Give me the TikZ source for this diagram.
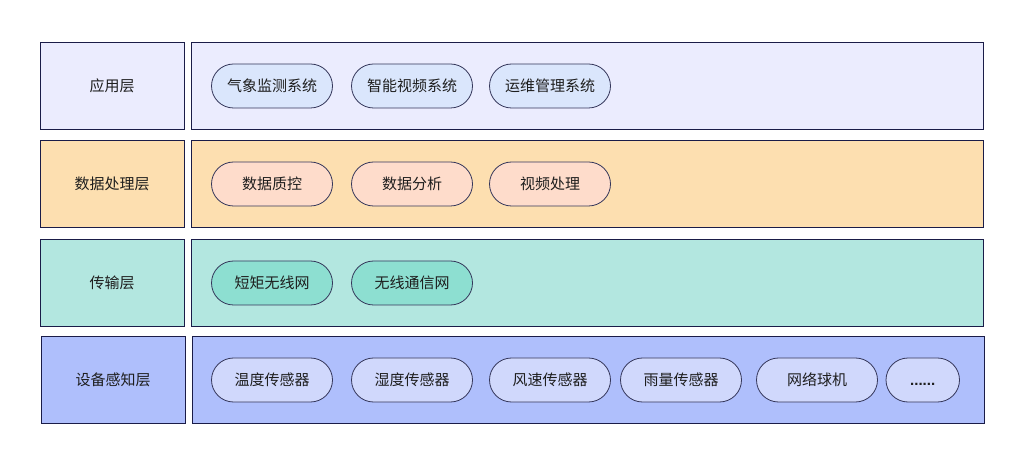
\documentclass[tikz,border=0pt]{standalone}
\usepackage{fontspec}
\setmainfont{Noto Sans CJK SC}
\newfontfamily\dotfont{Liberation Sans}
\begin{document}
\begin{tikzpicture}[x=1pt,y=-1pt,
  box/.style={draw=strokec, line width=0.9pt},
  pill/.style={draw=pillstroke, line width=0.8pt, rounded corners=22pt},
  lab/.style={font=\fontsize{15}{17}\selectfont, text=textc}]
\definecolor{strokec}{HTML}{1A1C48}
\definecolor{pillstroke}{HTML}{34365A}
\definecolor{textc}{HTML}{1E1E1E}
\definecolor{fa}{HTML}{EBECFE}
\definecolor{pa}{HTML}{DAE6FC}
\definecolor{fb}{HTML}{FDDFB0}
\definecolor{pb}{HTML}{FEDCCB}
\definecolor{fc}{HTML}{B3E7E0}
\definecolor{pc}{HTML}{8DDFD1}
\definecolor{fd}{HTML}{AFBFFC}
\definecolor{pd}{HTML}{D0D8FC}
\useasboundingbox (0,0) rectangle (1023,462);
% rows
\draw[box, fill=fa] (40,42) rectangle (184,129);
\draw[box, fill=fa] (191,42) rectangle (983,129);
\draw[box, fill=fb] (40,140) rectangle (184,227);
\draw[box, fill=fb] (191,140) rectangle (983,227);
\draw[box, fill=fc] (40,239) rectangle (184,326);
\draw[box, fill=fc] (191,239) rectangle (983,326);
\draw[box, fill=fd] (41,336) rectangle (185,423);
\draw[box, fill=fd] (192,336) rectangle (984,423);
\node[lab] (l1) at (112,86) {应用层};
\node[lab] (l2) at (112,184) {数据处理层};
\node[lab] (l3) at (112,283) {传输层};
\node[lab] (l4) at (113,380) {设备感知层};
% pills
\newcommand{\pillat}[5]{\draw[pill, fill=#4] (#1,#2-22) rectangle (#1+121,#2+22); \node[lab] (#5) at (#1+60.5,#2) {#3};}
\pillat{211.5}{86}{气象监测系统}{pa}{a1}
\pillat{351.5}{86}{智能视频系统}{pa}{a2}
\pillat{489.5}{86}{运维管理系统}{pa}{a3}
\pillat{211.5}{184}{数据质控}{pb}{b1}
\pillat{351.5}{184}{数据分析}{pb}{b2}
\pillat{489.5}{184}{视频处理}{pb}{b3}
\pillat{211.5}{283}{短矩无线网}{pc}{c1}
\pillat{351.5}{283}{无线通信网}{pc}{c2}
\pillat{211.5}{380}{温度传感器}{pd}{d1}
\pillat{351.5}{380}{湿度传感器}{pd}{d2}
\pillat{489.5}{380}{风速传感器}{pd}{d3}
\pillat{620.5}{380}{雨量传感器}{pd}{d4}
\pillat{756.5}{380}{网络球机}{pd}{d5}
\draw[pill, fill=pd] (886,358) rectangle (959.5,402);
\node[lab] (d6) at (922.7,380) {\vphantom{数}{\dotfont\bfseries ......}};
\end{tikzpicture}
\end{document}
